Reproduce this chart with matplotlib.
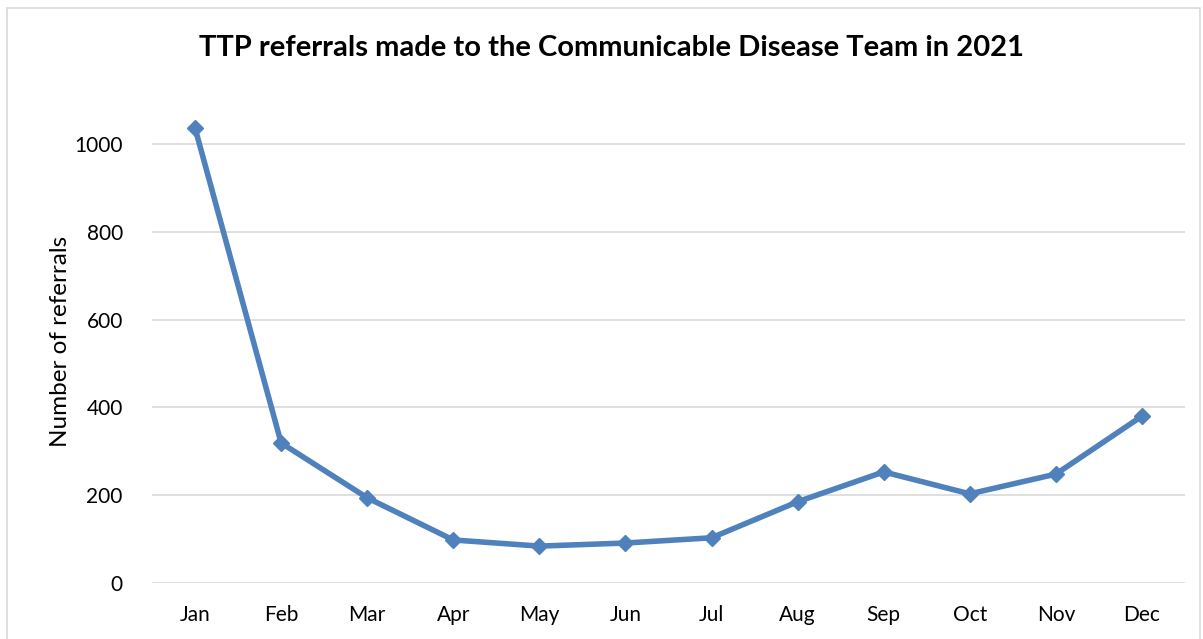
import matplotlib.pyplot as plt
from matplotlib.patches import Rectangle

months = ["Jan", "Feb", "Mar", "Apr", "May", "Jun",
          "Jul", "Aug", "Sep", "Oct", "Nov", "Dec"]
referrals = [1036, 319, 194, 98, 84, 91, 103, 185, 253, 203, 248, 380]
y_ticks = [0, 200, 400, 600, 800, 1000]

plt.rcParams["font.family"] = ["Lato", "DejaVu Sans"]

W, H = 1203, 639
fig = plt.figure(figsize=(W / 100, H / 100), dpi=100)

# outer chart border
fig.patches.append(Rectangle((7 / W, -0.05), (1200 - 7) / W, 1.05 - 8 / H,
                             transform=fig.transFigure, fill=False,
                             edgecolor="#d9d9d9", linewidth=1.2))

ax = fig.add_axes([152 / W, 1 - 583 / H, (1185 - 152) / W, (583 - 78) / H])

x = list(range(len(months)))
ax.plot(x, referrals, color="#4f81bd", linewidth=4, marker="D",
        markersize=8, solid_joinstyle="round", zorder=3)

ax.set_xlim(-0.5, len(months) - 0.5)
ax.set_ylim(0, 1150)
ax.set_yticks(y_ticks)
ax.set_xticks(x)
ax.set_xticklabels(months)
ax.tick_params(axis="both", length=0, labelsize=15, colors="black")
ax.tick_params(axis="x", pad=16)
ax.tick_params(axis="y", pad=21)

ax.grid(axis="y", color="#d9d9d9", linewidth=1.2)
ax.set_axisbelow(True)
for s in ax.spines.values():
    s.set_visible(False)

ax.set_ylabel("Number of referrals", fontsize=17.5, va="center")
ax.yaxis.set_label_coords(-0.089, 0.479)

fig.text(0.508, 1 - 48 / H, "TTP referrals made to the Communicable Disease Team in 2021",
         ha="center", va="center", fontsize=21, fontweight="bold")

plt.savefig("out.png", dpi=100)
